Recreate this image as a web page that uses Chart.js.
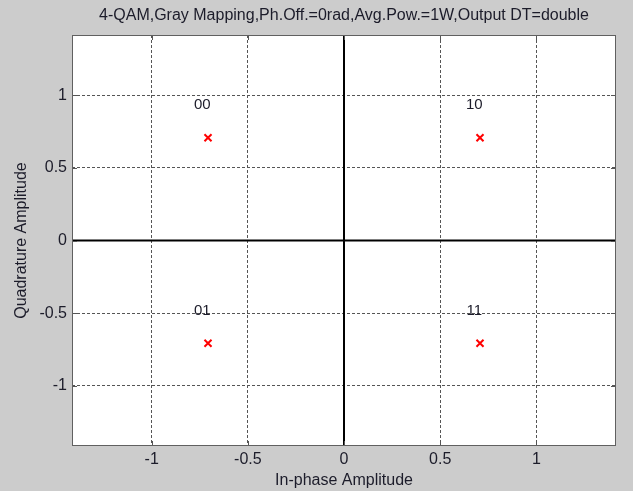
<!DOCTYPE html>
<html>
<head>
<meta charset="utf-8">
<script src="https://cdn.jsdelivr.net/npm/chart.js@4/dist/chart.umd.min.js"></script>
<style>
  body { margin: 0; background: #cccccc; }
  canvas { display: block; }
</style>
</head>
<body>
<canvas id="qamChart" width="633" height="491"></canvas>
<script>
// Constellation data (4-QAM, Gray mapping, unit average power)
const symbolI = [-0.7071, 0.7071, -0.7071, 0.7071];
const symbolQ = [0.7071, 0.7071, -0.7071, -0.7071];
const symbolLabels = ['00', '10', '01', '11'];
const tickValues = [-1, -0.5, 0, 0.5, 1];
const axisLimit = 1.4142;

const titleText = '4-QAM,Gray Mapping,Ph.Off.=0rad,Avg.Pow.=1W,Output DT=double';
const fontFamily = '"Liberation Sans", Arial, sans-serif';
const textColor = '#1c1c2a';

// Background, white plot box, inward ticks, symbol labels and title
const matlabLook = {
    id: 'matlabLook',
    beforeDraw(chart) {
        const { ctx, chartArea: a } = chart;
        ctx.save();
        ctx.fillStyle = '#cccccc';
        ctx.fillRect(0, 0, chart.width, chart.height);
        ctx.fillStyle = '#ffffff';
        ctx.fillRect(a.left, a.top, a.right - a.left, a.bottom - a.top);
        ctx.restore();
    },
    afterDraw(chart) {
        const { ctx, chartArea: a, scales } = chart;
        ctx.save();
        ctx.strokeStyle = '#555555';
        ctx.lineWidth = 1;
        ctx.setLineDash([]);
        // inward tick marks on all four sides
        tickValues.forEach(v => {
            const px = Math.round(scales.x.getPixelForValue(v)) + 0.5;
            const py = Math.round(scales.y.getPixelForValue(v)) + 0.5;
            ctx.beginPath();
            ctx.moveTo(px, a.bottom); ctx.lineTo(px, a.bottom - 5);
            ctx.moveTo(px, a.top); ctx.lineTo(px, a.top + 5);
            ctx.moveTo(a.left, py); ctx.lineTo(a.left + 5, py);
            ctx.moveTo(a.right, py); ctx.lineTo(a.right - 5, py);
            ctx.stroke();
        });
        // box
        ctx.strokeStyle = '#606060';
        ctx.strokeRect(a.left + 0.5, a.top + 0.5, a.right - a.left - 1, a.bottom - a.top - 1);

        // symbol labels
        ctx.fillStyle = textColor;
        ctx.font = '15px ' + fontFamily;
        ctx.textAlign = 'center';
        ctx.textBaseline = 'middle';
        symbolLabels.forEach((lab, i) => {
            const px = scales.x.getPixelForValue(symbolI[i] - 0.03);
            const py = scales.y.getPixelForValue(symbolQ[i] + 0.225);
            ctx.fillText(lab, px, py);
        });

        // title
        ctx.font = '16px ' + fontFamily;
        ctx.fillText(titleText, (a.left + a.right) / 2, 16);
        ctx.restore();
    }
};

const axisCommon = {
    type: 'linear',
    min: -axisLimit,
    max: axisLimit,
    afterBuildTicks: scale => {
        scale.ticks = tickValues.map(v => ({ value: v }));
    },
    grid: {
        color: '#555555',
        lineWidth: 1,
        drawTicks: false
    },
    border: { display: false, dash: [3, 2] },
    ticks: {
        color: textColor,
        font: { family: fontFamily, size: 16 },
        callback: v => String(v)
    }
};

new Chart(document.getElementById('qamChart').getContext('2d'), {
    type: 'scatter',
    data: {
        datasets: [
            {
                label: 'zeroX',
                data: [{ x: -axisLimit, y: 0 }, { x: axisLimit, y: 0 }],
                showLine: true,
                borderColor: '#000000',
                borderWidth: 2,
                pointRadius: 0
            },
            {
                label: 'zeroY',
                data: [{ x: 0, y: -axisLimit }, { x: 0, y: axisLimit }],
                showLine: true,
                borderColor: '#000000',
                borderWidth: 2,
                pointRadius: 0
            },
            {
                label: 'symbols',
                data: symbolI.map((v, i) => ({ x: v, y: symbolQ[i] })),
                pointStyle: 'crossRot',
                pointRadius: 5,
                borderWidth: 2,
                borderColor: '#ff0000',
                backgroundColor: '#ff0000'
            }
        ]
    },
    options: {
        responsive: false,
        animation: false,
        layout: { padding: { left: 0, right: 17, top: 35, bottom: 0 } },
        plugins: {
            legend: { display: false },
            tooltip: { enabled: false },
            title: { display: false }
        },
        scales: {
            x: {
                ...axisCommon,
                position: 'bottom',
                afterFit: scale => { scale.height = 45; },
                ticks: { ...axisCommon.ticks, padding: 4 },
                title: {
                    display: true,
                    text: 'In-phase Amplitude',
                    color: textColor,
                    font: { family: fontFamily, size: 16 },
                    padding: { top: 0, bottom: 1 }
                }
            },
            y: {
                ...axisCommon,
                position: 'left',
                afterFit: scale => { scale.width = 72; },
                ticks: { ...axisCommon.ticks, padding: 5 },
                title: {
                    display: true,
                    text: 'Quadrature Amplitude',
                    color: textColor,
                    font: { family: fontFamily, size: 16 },
                    padding: { top: 12, bottom: 0 }
                }
            }
        }
    },
    plugins: [matlabLook]
});
</script>
</body>
</html>
